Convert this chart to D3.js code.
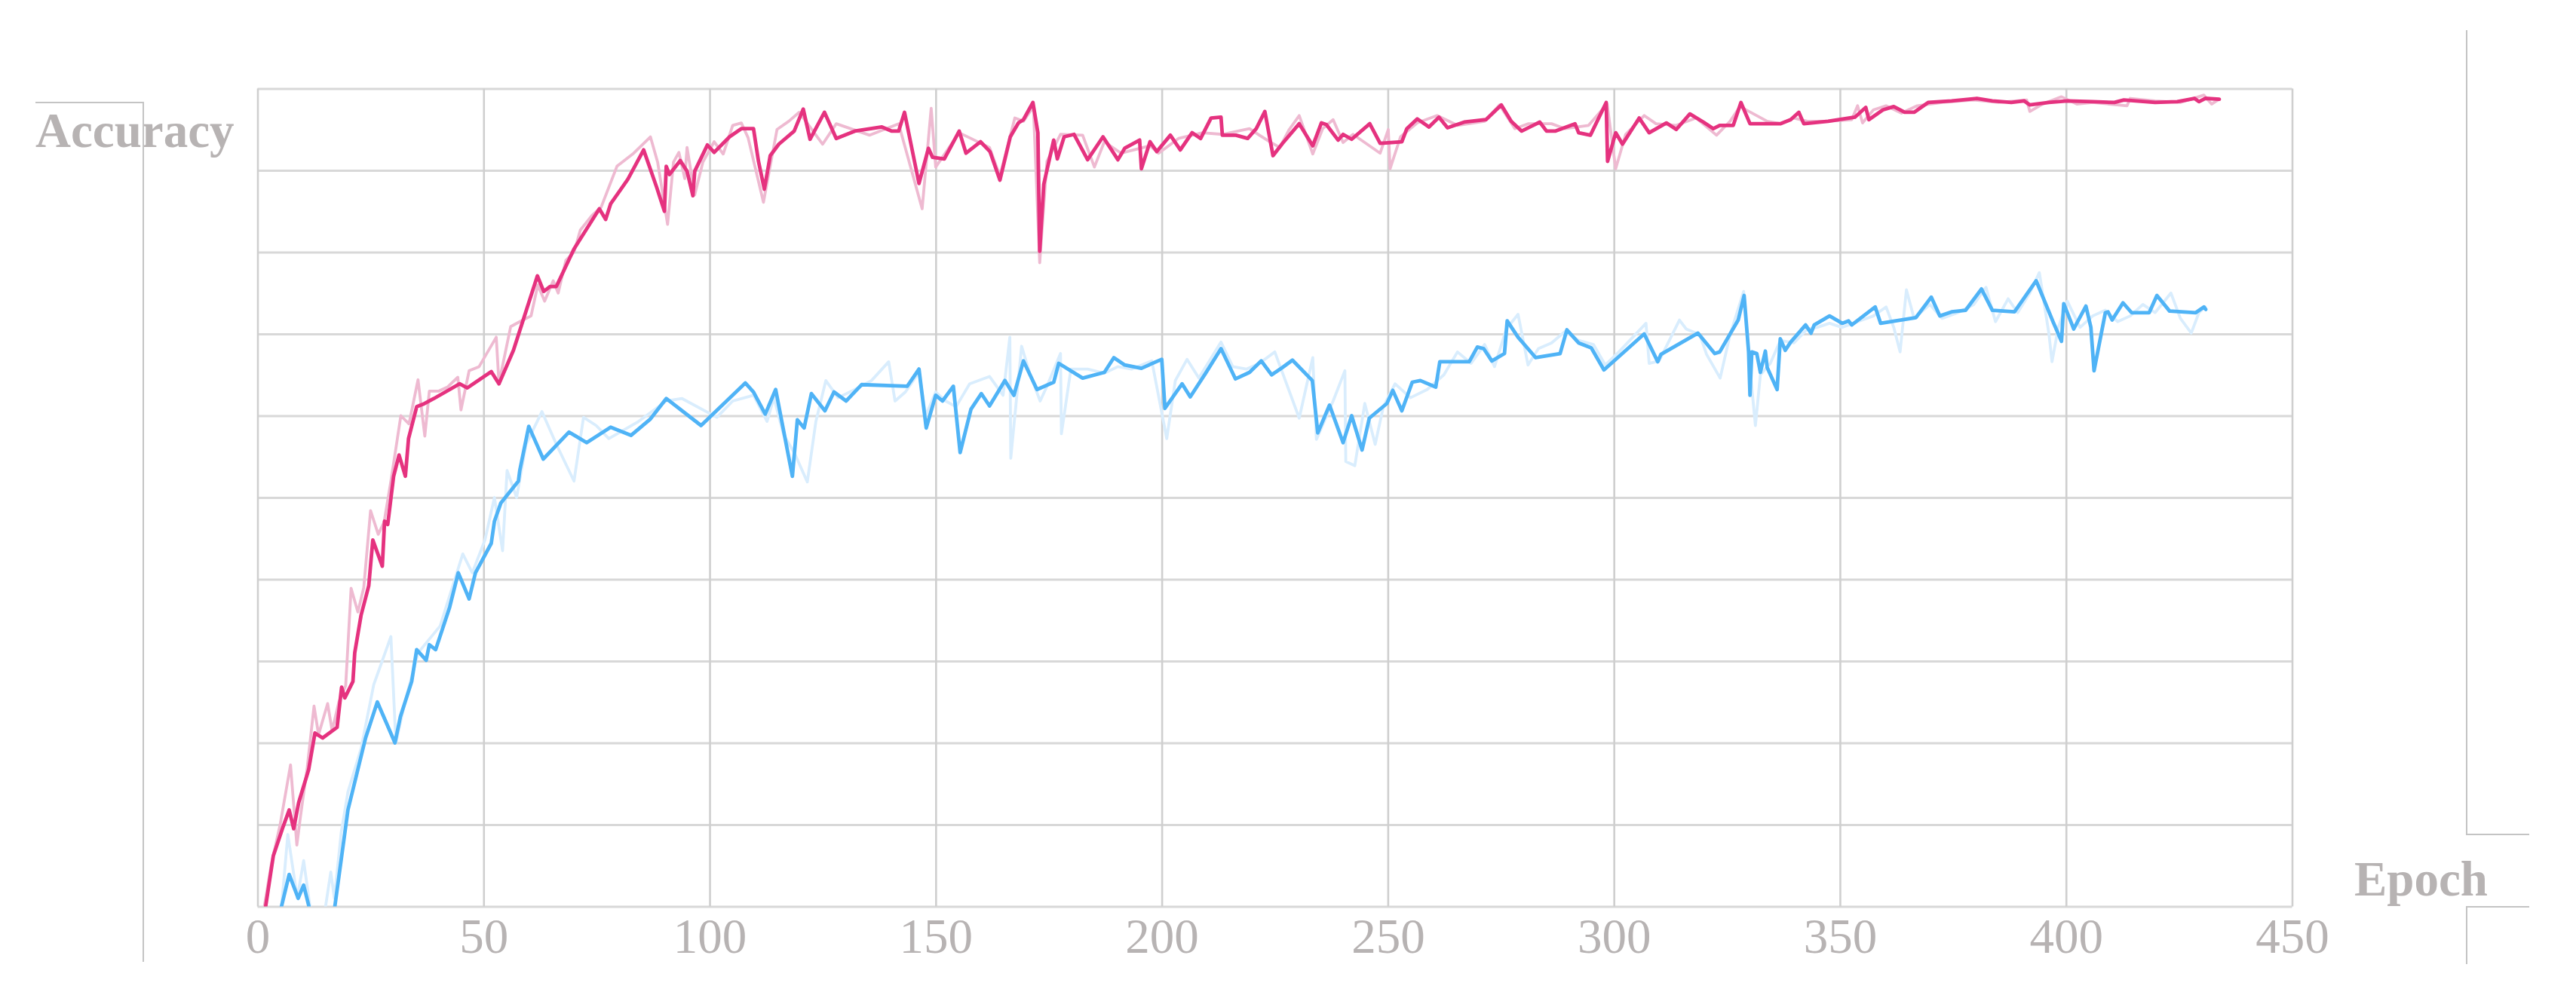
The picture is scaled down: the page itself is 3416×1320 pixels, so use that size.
<!DOCTYPE html>
<html><head><meta charset="utf-8">
<script src="https://cdn.jsdelivr.net/npm/d3@7"></script>
<style>html,body{margin:0;padding:0;background:#fff;}svg{display:block;}</style>
</head><body>
<svg id="chart" width="3416" height="1320"></svg>
<script>
// ---- data (epoch, accuracy) ----
const epochTicks = [0,50,100,150,200,250,300,350,400,450];
const accuracyTicks = [0,0.1,0.2,0.3,0.4,0.5,0.6,0.7,0.8,0.9,1.0];

const trainSmoothed = [[1,-0.04],[1.8,0],[3.5,0.062],[5.5,0.095],[7,0.118],[8,0.095],[9.1,0.127],[11.3,0.167],[12.7,0.212],[14.4,0.206],[17.6,0.219],[18.6,0.268],[19.3,0.255],[21.1,0.275],[21.5,0.31],[22.9,0.356],[24.6,0.392],[25.5,0.448],[27.6,0.416],[28.1,0.471],[28.8,0.467],[30.1,0.526],[31.3,0.552],[32.7,0.526],[33.4,0.572],[35.2,0.611],[36.6,0.614],[39,0.621],[44.7,0.639],[46.4,0.634],[51.7,0.654],[53.4,0.639],[56.6,0.68],[61.9,0.771],[63.3,0.752],[64.7,0.758],[66.1,0.758],[70,0.804],[75.6,0.853],[77,0.84],[78.1,0.859],[81.9,0.889],[85.4,0.925],[88.3,0.879],[90,0.85],[90.4,0.905],[91.1,0.895],[93.5,0.912],[95,0.899],[96.3,0.869],[96.7,0.899],[99.5,0.931],[101,0.922],[104.4,0.941],[107,0.951],[109.7,0.951],
[110.8,0.911],[112.1,0.877],[113.4,0.918],[115.3,0.932],[118.7,0.948],[120.7,0.975],[122.2,0.938],[125.4,0.971],[128,0.939],[132.1,0.948],[138.1,0.953],[140.3,0.948],[141.8,0.948],[143.1,0.971],[146.3,0.884],[148.4,0.927],[149.3,0.916],[151.9,0.914],[155.2,0.948],[156.7,0.921],[159.9,0.935],[162,0.923],[164.2,0.888],[166.5,0.941],[168.3,0.958],[169.4,0.962],[171.5,0.983],[172.6,0.946],[173,0.801],[173.9,0.883],[176.1,0.937],[176.9,0.914],[178.4,0.941],[180.6,0.944],[183.6,0.913],[187,0.941],[190.3,0.913],[191.8,0.927],[195.1,0.937],[195.5,0.902],[197.4,0.935],[198.9,0.923],[201.9,0.943],[204.1,0.925],[206.7,0.946],[208.6,0.939],[210.9,0.964],[213.1,0.965],[213.4,0.943],[216.4,0.943],[219,0.939],[220.9,0.951],[222.8,0.972],[224.6,0.918],[226.7,0.933],
[230.4,0.957],[233.4,0.93],[235.3,0.958],[236.4,0.956],[239,0.937],[240.1,0.944],[242,0.938],[246,0.957],[248.3,0.933],[253.1,0.935],[254.2,0.951],[256.5,0.963],[259.1,0.953],[261.3,0.965],[263.2,0.952],[266.9,0.959],[271.7,0.962],[275.1,0.98],[277.3,0.96],[279.6,0.948],[283.6,0.959],[285.1,0.948],[287,0.948],[291.4,0.957],[292.2,0.946],[294.8,0.943],[298.3,0.983],[298.6,0.911],[300.4,0.946],[301.9,0.932],[305.6,0.964],[307.8,0.946],[311.6,0.958],[313.8,0.95],[316.8,0.969],[319.8,0.959],[322,0.951],[323.4,0.955],[326.4,0.955],[328.1,0.983],[330.1,0.957],[336.8,0.957],[339.1,0.962],[340.9,0.971],[342,0.957],
[347.4,0.96],[353.3,0.965],[355.7,0.977],[356.4,0.962],[359.5,0.974],[361.9,0.978],[364.3,0.971],[366.4,0.971],[369.5,0.983],[374.7,0.985],[380.3,0.988],[383.7,0.985],[387.9,0.983],[390.7,0.985],[392,0.98],[396.2,0.983],[400.3,0.985],[405.9,0.984],[410.7,0.983],[412.8,0.986],[419.7,0.983],[424.6,0.984],[428.4,0.988],[429.4,0.984],[430.8,0.988],[433.9,0.987]];

const trainRaw = [[1,-0.03],[1.5,0],[3,0.05],[5,0.1],[7.3,0.173],[8.7,0.075],[9.5,0.11],[11,0.17],[12.5,0.245],[13.5,0.21],[15.5,0.248],[16.5,0.215],[18,0.25],[19.5,0.27],[20.7,0.389],[22.2,0.36],[23.5,0.39],[25,0.484],[26.7,0.455],[28,0.47],[29.5,0.52],[31.7,0.6],[33.5,0.59],[35.5,0.644],[37,0.575],[38,0.63],[40,0.63],[42,0.635],[44.3,0.647],[45,0.607],[46.8,0.655],[49,0.66],[52.8,0.696],[53.4,0.64],[56,0.709],[58,0.715],[60.5,0.722],[62,0.76],[63.5,0.74],[65.4,0.765],[66.5,0.75],[68.2,0.79],[70,0.8],[71.4,0.827],[74,0.845],[76,0.855],[79.5,0.905],[83,0.92],[86.9,0.941],[88.5,0.91],[90.7,0.834],[92,0.91],[93.2,0.922],[94.5,0.89],[95,0.928],[96.7,0.87],[98.5,0.91],[101,0.935],[103,0.92],[105.1,0.955],[107,0.958],[108.5,0.94],
[111.9,0.861],[114.9,0.95],[117.5,0.96],[119.8,0.971],[125,0.932],[128,0.957],[135.4,0.943],[141.8,0.957],[147,0.853],[149,0.976],[150,0.904],[155.2,0.946],[161.9,0.928],[164.2,0.893],[167.5,0.964],[169.4,0.96],[171.6,0.978],[173,0.787],[174.6,0.911],[177.6,0.944],[182.5,0.943],[185.1,0.904],[187.3,0.935],[191,0.921],[197.4,0.93],[199.3,0.921],[203.7,0.939],[206.7,0.943],[209,0.946],[213.4,0.944],[219.4,0.951],[221.6,0.943],[223.9,0.935],[226.1,0.928],
[228.2,0.95],[230.4,0.967],[233.4,0.92],[235.6,0.951],[237.9,0.962],[240.1,0.934],[242.3,0.944],[248.3,0.921],[250.1,0.95],[250.5,0.902],[252.8,0.941],[256.5,0.958],[260.9,0.967],[265.4,0.955],[271.4,0.96],[274.7,0.98],[278.1,0.951],[281,0.957],[286.2,0.957],[289.2,0.951],[294.4,0.955],[298.5,0.981],[300.4,0.902],[302.6,0.944],[306.7,0.967],[309.3,0.957],[313.8,0.955],[318.2,0.964],[322.7,0.943],[325.7,0.96],[327.9,0.978],[333.9,0.96],[336.8,0.957],[339.8,0.964],[342.8,0.96],
[347,0.96],[352.6,0.962],[353.9,0.979],[355,0.958],[357.4,0.974],[360.2,0.979],[363.6,0.97],[367.1,0.979],[372.6,0.983],[379.6,0.986],[385.1,0.983],[391.3,0.986],[392,0.972],[394.8,0.981],[399,0.99],[402.4,0.981],[405.9,0.983],[413.5,0.979],[414.2,0.988],[419.7,0.985],[425.3,0.983],[430.5,0.992],[432.2,0.981],[433.6,0.986]];

const valSmoothed = [[4.5,-0.03],[5.3,0],[7,0.039],[9,0.01],[10.2,0.026],[11.6,-0.005],[14,-0.07],[16.5,-0.02],[17.1,0],[20,0.118],[23.9,0.206],[26.5,0.25],[30.4,0.2],[31.6,0.232],[34.1,0.275],[35.2,0.314],[37.3,0.301],[38,0.32],[39.4,0.314],[42.5,0.366],[44.4,0.408],[46.8,0.376],[48.2,0.408],[51.7,0.444],[52.4,0.471],[53.8,0.493],[57.7,0.52],[58,0.533],[60,0.587],[63.2,0.547],[68.9,0.58],[72.8,0.567],[78.1,0.586],[82.6,0.576],[86.9,0.596],[90.4,0.621],[98.1,0.588],[107.9,0.64],[109.7,0.629],
[112.3,0.602],[114.6,0.632],[118.3,0.526],[119.4,0.595],[120.9,0.585],[122.5,0.627],[125.5,0.606],[127.5,0.629],[130.2,0.618],[133.6,0.638],[143.7,0.636],[146.3,0.657],[147.9,0.585],[150,0.625],[151.5,0.618],[153.9,0.636],[155.4,0.555],[157.8,0.608],[160.1,0.627],[161.9,0.612],[165.3,0.643],[167.3,0.625],[169.4,0.667],[172.4,0.632],[176.1,0.641],[177.2,0.664],[182.5,0.646],[187.3,0.653],[189.4,0.671],[191.8,0.662],[195.5,0.658],[200,0.669],[200.7,0.609],[204.5,0.639],[206.3,0.623],[209.7,0.652],[213.1,0.682],[216.3,0.645],[219.4,0.653],[222,0.667],[224.3,0.65],[226.7,0.659],
[228.9,0.668],[233.3,0.643],[234.5,0.579],[237.1,0.613],[240.1,0.567],[242,0.6],[244.3,0.558],[245.9,0.597],[249.8,0.615],[251.1,0.631],[253.1,0.606],[255.4,0.641],[257.2,0.643],[260.6,0.635],[261.5,0.666],[268,0.666],[269.8,0.684],[271.2,0.682],[273,0.667],[275.8,0.676],[276.4,0.716],[278.8,0.696],[282.7,0.671],[288.1,0.676],[289.6,0.705],[292.2,0.689],[295,0.683],[297.8,0.656],[306.7,0.7],[309.7,0.666],[310.4,0.675],[318.6,0.701],[322.3,0.676],[323.4,0.678],[327.5,0.717],[328.8,0.747],[329.8,0.678],[330.1,0.625],[330.5,0.678],[331.6,0.676],[332.4,0.653],[333.5,0.679],[333.9,0.659],[336.1,0.632],[336.8,0.694],[337.9,0.68],[339.1,0.69],[342.4,0.711],[343.6,0.701],
[344.3,0.711],[347.7,0.722],[350.5,0.713],[351.9,0.716],[352.6,0.711],[357.8,0.733],[359,0.713],[366.8,0.72],[370.2,0.745],[372.1,0.722],[374.7,0.727],[377.8,0.729],[381.3,0.755],[383.7,0.729],[388.6,0.727],[393.4,0.765],[397.2,0.714],[399,0.691],[399.5,0.737],[401.7,0.706],[404.4,0.734],[405.5,0.708],[406.2,0.655],[408.7,0.726],[409.3,0.727],[410.2,0.717],[412.6,0.738],[414.5,0.726],[418.4,0.726],[420.1,0.747],[422.9,0.728],[428.7,0.726],[430.5,0.733],[430.9,0.73]];

const valRaw = [[5,-0.02],[6.7,0.088],[8.8,0.01],[10.2,0.056],[11.6,0],[13,-0.05],[14.5,-0.02],[16.2,0.042],[17,0.01],[18.5,0.09],[20,0.14],[22.9,0.193],[25.7,0.271],[29.5,0.33],[30.6,0.2],[32.7,0.252],[35.5,0.31],[40.4,0.343],[45.4,0.431],[47.5,0.408],[50.3,0.448],[52.4,0.5],[54.2,0.435],[55.2,0.533],[57.3,0.5],[59.4,0.565],[62.9,0.605],[66.1,0.565],[70,0.52],[72.1,0.598],[74.9,0.588],[77.7,0.572],[84,0.592],[90.4,0.618],[93.9,0.621],[101.6,0.598],[105.1,0.618],[109.7,0.625],
[112.7,0.593],[114.2,0.622],[116.4,0.576],[118.7,0.555],[121.6,0.519],[123.5,0.593],[125.7,0.643],[128.4,0.622],[132.1,0.632],[135.8,0.643],[139.6,0.666],[141,0.618],[143.3,0.629],[146.3,0.653],[147.8,0.6],[150,0.629],[152.2,0.618],[154.5,0.611],[157.5,0.639],[161.9,0.648],[164.9,0.625],[166.4,0.696],[166.6,0.548],[169,0.685],[170.9,0.65],[173.1,0.618],[174.6,0.636],[177.6,0.676],[177.8,0.578],[179.9,0.657],[183.6,0.657],[187.3,0.652],[190.3,0.66],[193.3,0.657],[197.8,0.667],[201.1,0.572],[203,0.643],[205.6,0.669],[208.2,0.646],[213.1,0.69],[215.7,0.66],[218.7,0.657],[221.6,0.664],[225,0.678],
[230.4,0.597],[233.4,0.671],[234.2,0.571],[237.9,0.618],[240.5,0.655],[240.7,0.544],[242.7,0.539],[244.9,0.615],[247.2,0.565],[249,0.611],[251.6,0.639],[255,0.622],[258.7,0.632],[262.4,0.65],[265.4,0.678],[268.4,0.664],[271.4,0.687],[273.6,0.66],[276.2,0.706],[278.8,0.724],[281,0.662],[283.3,0.682],[286.2,0.689],[289.2,0.703],[292.2,0.692],[295.5,0.687],[298.1,0.662],[301.1,0.678],[307.1,0.713],[307.8,0.664],[310,0.667],[314.5,0.717],[316,0.706],[319,0.699],[320.5,0.675],[323.5,0.646],[325.7,0.699],[328.7,0.752],[329.8,0.675],[331.3,0.588],[332.4,0.65],[334.6,0.664],[336.8,0.692],[339.8,0.689],[342.8,0.706],
[344.9,0.708],[347.7,0.713],[350.5,0.708],[353.9,0.715],[357.4,0.722],[360.2,0.733],[361.9,0.708],[363.3,0.678],[364.7,0.754],[366.4,0.719],[369.9,0.736],[372.6,0.719],[376.1,0.726],[379.6,0.736],[382.3,0.757],[384.4,0.715],[387.2,0.743],[389.3,0.726],[392,0.75],[394.1,0.775],[396.2,0.701],[396.9,0.666],[398.3,0.708],[400.3,0.74],[403.1,0.708],[405.9,0.722],[408.7,0.729],[411.4,0.715],[414.2,0.722],[417,0.736],[419.7,0.726],[423.2,0.75],[425.3,0.719],[427.7,0.701],[429.4,0.726],[430.8,0.733]];

// ---- layout ----
const plot = {left:341.5, right:3039.5, top:117.5, bottom:1202.5};
const textColor = "#b7b3b3";
const x = d3.scaleLinear().domain([0,450]).range([plot.left, plot.right]);
const y = d3.scaleLinear().domain([0,1]).range([plot.bottom, plot.top]);
const svg = d3.select("#chart");

// horizontal grid
const gy = svg.append("g").attr("transform",`translate(${plot.left},0)`)
  .call(d3.axisLeft(y).tickValues(accuracyTicks).tickSize(-(plot.right-plot.left)).tickFormat(""));
gy.select(".domain").remove();
gy.selectAll(".tick line").attr("stroke","#d8d8d8").attr("stroke-width",3);

// vertical grid + labels
const gx = svg.append("g").attr("transform",`translate(0,${plot.bottom})`)
  .call(d3.axisBottom(x).tickValues(epochTicks).tickSize(-(plot.bottom-plot.top)).tickFormat(d3.format("d")));
gx.select(".domain").remove();
gx.selectAll(".tick line").attr("stroke","#cfcfcf").attr("stroke-width",2.6);
gx.selectAll(".tick text").attr("dy",null).attr("y",61.5)
  .attr("fill",textColor).style("font-family","'Liberation Serif','Times New Roman',serif").style("font-size","65px");

// clip
svg.append("defs").append("clipPath").attr("id","clip").append("rect")
  .attr("x",plot.left).attr("y",plot.top-20).attr("width",plot.right-plot.left).attr("height",plot.bottom-plot.top+20);

const line = d3.line().x(d=>x(d[0])).y(d=>y(d[1]));
const lines = svg.append("g").attr("clip-path","url(#clip)");
function draw(data,color,w){
  lines.append("path").datum(data).attr("d",line).attr("fill","none")
    .attr("stroke",color).attr("stroke-width",w).attr("stroke-linejoin","round").attr("stroke-linecap","round");
}
draw(valRaw,"#d9edfd",3.8);
draw(trainRaw,"#eebad1",3.8);
draw(valSmoothed,"#4fb3f6",4.8);
draw(trainSmoothed,"#e5327f",4.8);

// axis titles
svg.append("text").attr("x",47).attr("y",195).text("Accuracy")
  .attr("fill",textColor).style("font-family","'Liberation Serif','Times New Roman',serif")
  .style("font-weight","bold").style("font-size","65px");
svg.append("text").attr("x",3122).attr("y",1188).text("Epoch")
  .attr("fill",textColor).style("font-family","'Liberation Serif','Times New Roman',serif")
  .style("font-weight","bold").style("font-size","65px");

// decorative frame lines
const frame = svg.append("g").attr("fill","none").attr("stroke","#c4c4c4").attr("stroke-width",2);
frame.append("path").attr("d","M47,136 H190 V1276");
frame.append("path").attr("d","M3271,40 V1107 H3354");
frame.append("path").attr("d","M3354,1203 H3271 V1279");
</script>
</body></html>
